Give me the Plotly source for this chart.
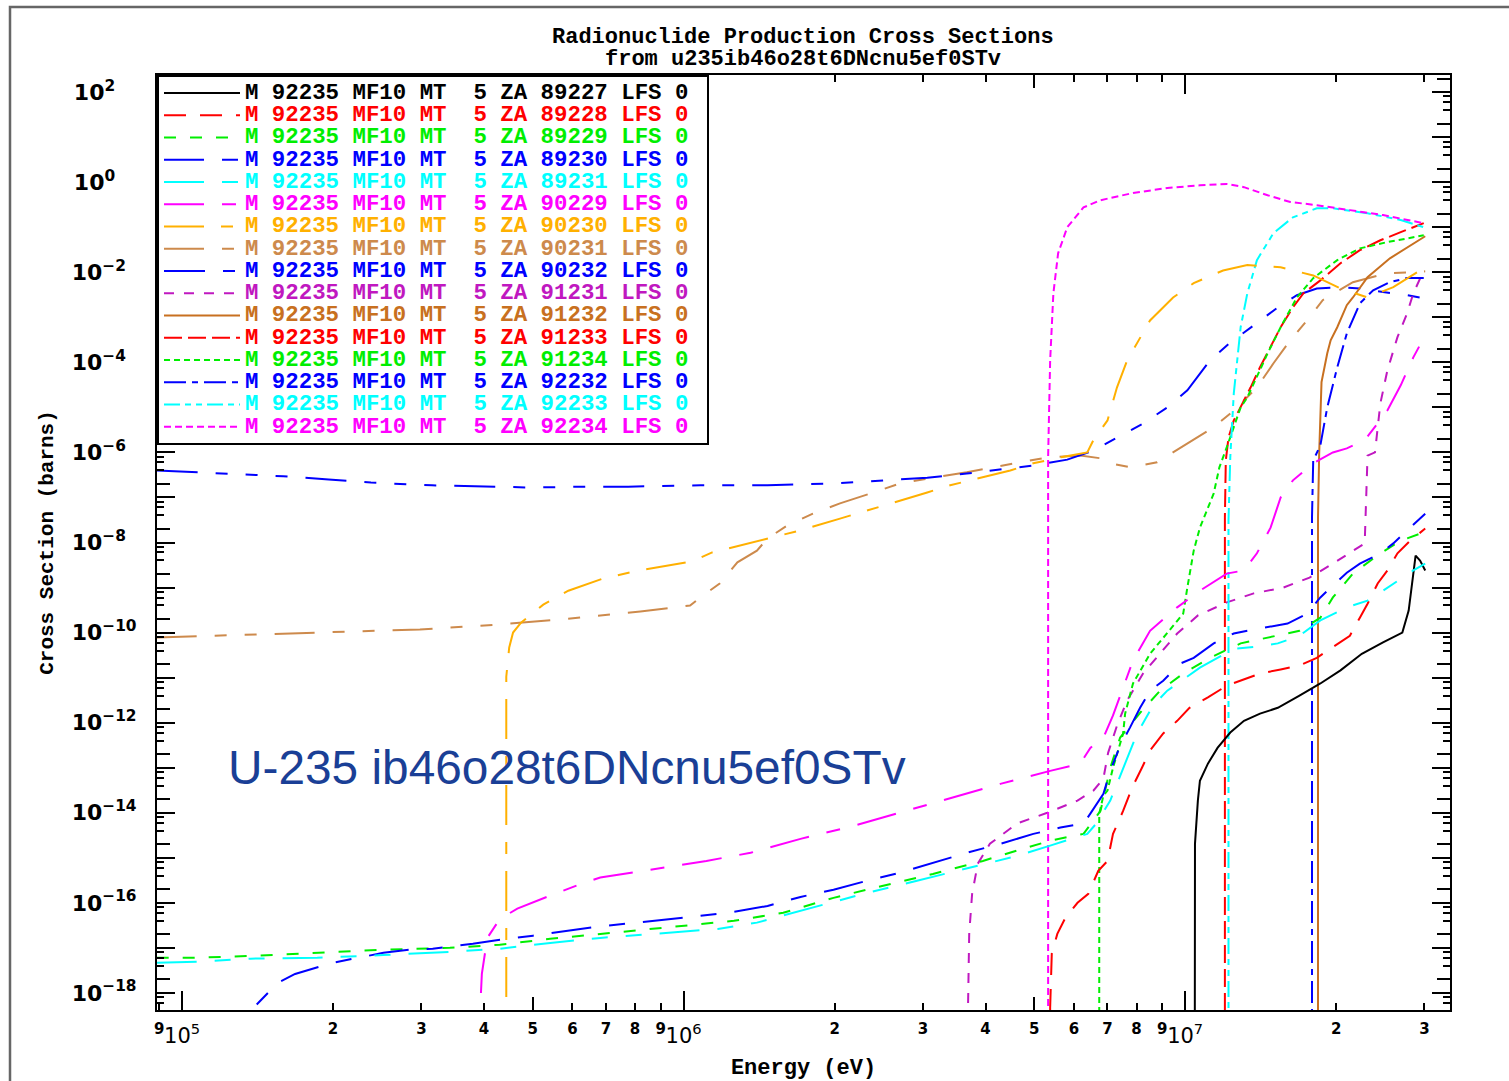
import plotly.graph_objects as go

W, H = 1509, 1081
ML, MR, MT, MB = 157, 59, 75, 71

# ---------------- data (energy in MeV, cross section as log10(barns)) ----------------
E_89227 = [10.45, 10.45, 10.46, 10.6, 10.7, 11.1, 11.6, 12.3, 13.1, 14.1, 15.3, 16.9, 18.6, 20.4, 22.5, 24.8,
           27.1, 27.9, 28.4, 28.8, 29.4, 30.1]
LG_89227 = [-20, -15.96, -14.69, -13.73, -13.29, -12.91, -12.56, -12.22, -11.96, -11.8, -11.67, -11.4, -11.13,
            -10.84, -10.47, -10.22, -10.0, -9.51, -8.84, -8.29, -8.4, -8.62]

E_89228 = [5.38, 5.38, 5.42, 5.56, 5.77, 6.10, 6.41, 6.71, 7.0, 7.18, 7.52, 7.84, 8.20, 8.51, 9.04, 9.64, 10.2,
           11.1, 12.1, 14.1, 15.5, 16.9, 18.3, 19.7, 21.3, 22.3, 23.1, 24.2, 25.3, 26.5, 28.1, 30.1]
LG_89228 = [-20, -18.33, -17.13, -16.69, -16.33, -16.0, -15.8, -15.29, -15.07, -14.47, -13.96, -13.44, -13.0,
            -12.62, -12.24, -11.96, -11.67, -11.44, -11.18, -10.91, -10.82, -10.73, -10.56, -10.33, -10.07, -9.67,
            -9.36, -8.91, -8.62, -8.24, -7.96, -7.69]

E_89229 = [0.089, 0.105, 0.137, 0.186, 0.252, 0.342, 0.430, 0.542, 0.682, 1.08, 1.26, 1.58, 1.99, 2.50, 3.14,
           3.95, 4.62, 5.38, 6.27, 6.78, 7.09, 7.42, 8.13, 8.91, 9.91, 11.2, 12.9, 14.6, 16.9, 18.6, 19.7, 21.6,
           24.5, 26.9, 29.8]
LG_89229 = [-17.22, -17.22, -17.18, -17.11, -17.04, -17.0, -16.93, -16.8, -16.69, -16.47, -16.4, -16.22, -15.89,
            -15.62, -15.36, -15.07, -14.84, -14.62, -14.47, -13.96, -13.0, -12.33, -11.78, -11.29, -10.91, -10.56,
            -10.24, -10.11, -9.96, -9.67, -9.22, -8.69, -8.24, -7.96, -7.78]

E_89230 = [0.135, 0.138, 0.155, 0.168, 0.200, 0.252, 0.285, 0.316, 0.380, 0.417, 0.501, 0.594, 0.673, 1.08, 1.26,
           1.47, 1.71, 1.99, 2.32, 2.70, 3.14, 3.67, 4.28, 4.98, 5.64, 6.27, 6.47, 6.87, 7.09, 7.42, 7.76, 8.13,
           8.51, 9.04, 9.77, 10.4, 11.4, 12.5, 13.3, 14.8, 16.0, 17.5, 18.6, 19.5, 21.0, 22.3, 24.5, 26.0, 27.7, 30.1]
LG_89230 = [-19.5, -18.36, -17.78, -17.58, -17.33, -17.11, -17.04, -17.02, -16.91, -16.84, -16.73, -16.62, -16.53,
            -16.29, -16.2, -16.07, -15.87, -15.71, -15.51, -15.33, -15.11, -14.89, -14.69, -14.47, -14.33, -14.24,
            -14.02, -13.58, -13.07, -12.51, -12.11, -11.67, -11.29, -11.07, -10.69, -10.56, -10.24, -10.02, -9.96,
            -9.87, -9.8, -9.58, -9.22, -9.0, -8.67, -8.47, -8.24, -8.02, -7.73, -7.36]

E_89231 = [0.089, 0.107, 0.137, 0.186, 0.252, 0.342, 0.430, 0.542, 0.682, 1.17, 1.40, 1.85, 2.32, 2.92, 3.67,
           4.62, 5.38, 6.38, 6.65, 7.09, 7.42, 8.02, 8.63, 9.21, 10.7, 11.6, 12.5, 13.9, 15.3, 16.9, 18.6, 21.0,
           23.1, 24.5, 26.0, 28.5, 30.1]
LG_89231 = [-17.33, -17.31, -17.24, -17.22, -17.16, -17.09, -17.02, -16.89, -16.78, -16.58, -16.44, -16.07, -15.78,
            -15.51, -15.24, -14.96, -14.73, -14.47, -14.24, -13.73, -13.18, -12.24, -11.62, -11.29, -10.78, -10.56,
            -10.36, -10.31, -10.24, -10.07, -9.73, -9.44, -9.29, -9.11, -8.91, -8.62, -8.47]

E_90229 = [0.392, 0.393, 0.396, 0.406, 0.430, 0.466, 0.542, 0.631, 0.682, 1.11, 1.36, 1.71, 2.15, 2.70, 3.40,
           4.28, 5.38, 6.18, 6.47, 6.87, 7.18, 7.87, 8.51, 9.64, 10.7, 12.1, 13.1, 13.9, 14.8, 15.5, 16.4, 18.0,
           19.7, 21.0, 22.8, 25.3, 26.9, 28.5, 30.1]
LG_90229 = [-20, -18.36, -17.58, -16.78, -16.36, -16.13, -15.84, -15.56, -15.44, -15.07, -14.89, -14.58, -14.31,
            -14.0, -13.67, -13.36, -13.07, -12.91, -12.56, -12.33, -11.84, -10.62, -9.96, -9.44, -9.07, -8.69,
            -8.62, -8.24, -7.67, -7.0, -6.62, -6.24, -6.0, -5.91, -5.73, -5.07, -4.51, -3.89, -3.4]

E_90230 = [0.443, 0.443, 0.449, 0.457, 0.474, 0.525, 0.589, 0.691, 0.815, 0.914, 1.04, 1.14, 1.37, 1.71, 2.05,
           2.32, 2.62, 3.06, 3.40, 3.85, 4.48, 4.98, 5.64, 6.38, 6.56, 7.0, 7.31, 7.66, 8.13, 8.51, 9.46, 10.4,
           11.9, 13.3, 15.5, 18.0, 20.4, 23.1, 26.0, 29.4]
LG_90230 = [-20, -10.98, -10.33, -10.0, -9.78, -9.38, -9.07, -8.8, -8.62, -8.53, -8.42, -8.22, -8.0, -7.73, -7.47,
            -7.29, -7.13, -6.89, -6.73, -6.58, -6.4, -6.24, -6.11, -6.0, -5.73, -5.29, -4.56, -3.96, -3.44, -3.07,
            -2.56, -2.24, -1.96, -1.84, -1.89, -2.07, -2.36, -2.56, -2.33, -1.96]

E_90231 = [0.089, 0.172, 0.298, 0.430, 0.566, 0.820, 1.03, 1.08, 1.18, 1.28, 1.40, 1.47, 1.61, 1.81, 2.05, 2.39,
           2.70, 3.14, 3.67, 4.14, 4.62, 5.31, 6.18, 6.78, 7.09, 7.76, 8.79, 10.1, 11.4, 12.5, 13.9, 15.0, 16.2,
           17.5, 18.8, 21.6, 25.3, 28.5, 30.1]
LG_90231 = [-10.11, -10.02, -9.93, -9.82, -9.71, -9.53, -9.4, -9.22, -8.91, -8.44, -8.18, -7.91, -7.62, -7.36,
            -7.13, -6.89, -6.69, -6.56, -6.44, -6.33, -6.24, -6.11, -6.07, -6.13, -6.24, -6.33, -6.22, -5.8, -5.44,
            -5.07, -4.56, -4.02, -3.51, -3.07, -2.62, -2.22, -2.02, -2.0, -1.98]

E_90232 = [0.089, 0.120, 0.159, 0.196, 0.238, 0.315, 0.390, 0.499, 0.641, 0.775, 1.08, 1.47, 1.99, 2.50, 3.06,
           3.67, 4.28, 4.98, 5.82, 6.56, 7.31, 8.24, 9.21, 10.1, 11.2, 12.3, 13.7, 15.3, 16.7, 18.3, 20.4, 22.3,
           24.8, 27.7, 30.1]
LG_90232 = [-6.4, -6.47, -6.53, -6.6, -6.67, -6.73, -6.76, -6.78, -6.76, -6.76, -6.73, -6.73, -6.69, -6.62, -6.56,
            -6.47, -6.38, -6.29, -6.16, -5.96, -5.67, -5.36, -5.0, -4.62, -3.96, -3.56, -3.18, -2.78, -2.51, -2.36,
            -2.33, -2.36, -2.44, -2.51, -2.58]

E_91231 = [3.69, 3.69, 3.71, 3.76, 3.86, 4.08, 4.62, 5.31, 6.10, 6.56, 6.87, 7.02, 7.31, 7.66, 8.24, 8.91, 9.64,
           10.6, 12.1, 13.7, 15.7, 17.7, 19.7, 22.8, 23.1, 23.9, 24.5, 25.3, 26.5, 27.7, 28.5, 29.9]
LG_91231 = [-20, -18.33, -16.69, -15.8, -15.13, -14.69, -14.24, -14.0, -13.73, -13.51, -13.24, -12.67, -12.07,
            -11.51, -10.91, -10.47, -10.02, -9.62, -9.33, -9.13, -9.0, -8.78, -8.47, -8.02, -6.07, -6.0, -4.91,
            -4.18, -3.44, -2.91, -2.47, -1.96]

E_91232 = [18.4, 18.4, 18.5, 18.7, 19.2, 19.5, 20.1, 21.0, 21.6, 23.1, 25.6, 28.5, 30.1]
LG_91232 = [-20, -7.44, -6.02, -4.44, -3.8, -3.51, -3.22, -2.73, -2.56, -2.11, -1.69, -1.36, -1.2]

E_91233 = [12.0, 12.0, 12.05, 12.2, 12.5, 12.9, 13.5, 14.1, 14.8, 15.5, 16.4, 17.2, 18.6, 20.4, 22.3, 24.5, 26.9,
           29.9]
LG_91233 = [-20, -7.44, -6.18, -5.67, -5.29, -5.0, -4.56, -4.11, -3.67, -3.22, -2.78, -2.47, -2.18, -1.8, -1.51,
            -1.29, -1.11, -0.91]

E_91234 = [6.74, 6.74, 6.87, 7.0, 7.18, 7.52, 7.59, 7.87, 8.51, 9.21, 9.91, 10.1, 10.4, 10.7, 11.4, 11.7, 12.1,
           12.9, 13.3, 14.6, 15.5, 16.7, 18.0, 20.1, 22.3, 25.3, 28.5, 29.9]
LG_91234 = [-20, -14.02, -13.62, -13.51, -13.0, -12.24, -11.8, -11.13, -10.47, -10.02, -9.58, -9.0, -8.18, -7.67,
            -6.91, -6.33, -5.89, -5.0, -4.78, -3.8, -3.22, -2.56, -2.13, -1.73, -1.47, -1.33, -1.22, -1.18]

E_92232 = [17.9, 17.9, 18.0, 18.6, 19.2, 20.1, 21.0, 22.3, 23.7, 25.6, 27.7, 29.9]
LG_92232 = [-20, -7.44, -6.18, -5.84, -5.0, -4.11, -3.36, -2.69, -2.4, -2.22, -2.13, -2.13]

E_92233 = [12.2, 12.2, 12.3, 12.5, 12.9, 13.3, 13.9, 15.0, 16.4, 18.3, 19.7, 23.1, 26.9, 29.9]
LG_92233 = [-20, -7.51, -6.11, -4.69, -3.22, -2.47, -1.73, -1.13, -0.78, -0.58, -0.58, -0.69, -0.84, -1.0]

E_92234 = [5.33, 5.33, 5.38, 5.46, 5.58, 5.82, 6.27, 6.78, 7.87, 9.21, 10.7, 12.1, 13.1, 14.6, 16.2, 18.3, 21.3,
           24.8, 29.9]
LG_92234 = [-20, -6.11, -3.96, -2.47, -1.58, -1.0, -0.56, -0.4, -0.24, -0.13, -0.07, -0.04, -0.11, -0.29, -0.44,
            -0.51, -0.62, -0.73, -0.91]

ZA_LIST = ["89227", "89228", "89229", "89230", "89231", "90229", "90230", "90231", "90232",
           "91231", "91232", "91233", "91234", "92232", "92233", "92234"]
COLORS = ["#000000", "#ff0000", "#00ee00", "#0000ff", "#00ffff", "#ff00ff", "#ffb000", "#cd8a4c", "#0000ff",
          "#c018c0", "#c87020", "#ff0000", "#00ee00", "#0000ff", "#00ffff", "#ff00ff"]
DASHES = ["solid", "22px,14px", "12px,14px", "40px,18px,16px,18px", "40px,18px,16px,18px,16px,18px",
          "40px,18px,14px,18px", "40px,17px,12px,17px", "40px,18px,12px,18px,12px,18px",
          "41px,18px,12px,18px,12px,18px,12px,18px", "10px,10px", "solid", "18px,6px", "6px,4px",
          "22px,6px,6px,6px", "16px,5px,6px,5px,6px,5px", "7px,4px"]
ENERGIES = [E_89227, E_89228, E_89229, E_89230, E_89231, E_90229, E_90230, E_90231, E_90232,
            E_91231, E_91232, E_91233, E_91234, E_92232, E_92233, E_92234]
LOG_XS = [LG_89227, LG_89228, LG_89229, LG_89230, LG_89231, LG_90229, LG_90230, LG_90231, LG_90232,
          LG_91231, LG_91232, LG_91233, LG_91234, LG_92232, LG_92233, LG_92234]

TITLE_1 = "Radionuclide Production Cross Sections"
TITLE_2 = "from u235ib46o28t6DNcnu5ef0STv"
NOTE = "U-235 ib46o28t6DNcnu5ef0STv"
X_TITLE = "Energy (eV)"
Y_TITLE = "Cross Section (barns)"

X_RANGE_LOG = [4.950, 7.528]
Y_RANGE_LOG = [-18.38, 2.38]

# ---------------- figure ----------------
MONO = "Liberation Mono"
SANS = "DejaVu Sans"
# the overlay tick axes each carry one (identically scaled) trace so that plotly draws them
AXES_FOR = {0: ("x2", "y"), 1: ("x3", "y"), 2: ("x", "y2"),
            3: ("x4", "y"), 4: ("x5", "y"), 5: ("x6", "y"), 6: ("x", "y3")}

fig = go.Figure()
for i, (za, color, dash, E, LG) in enumerate(zip(ZA_LIST, COLORS, DASHES, ENERGIES, LOG_XS)):
    label = ('<span style="color:%s;font-size:22.4px">M 92235 MF10 MT\u00a0\u00a05 ZA %s LFS 0\u00a0</span>'
             % (color, za))
    xa, ya = AXES_FOR.get(i, ("x", "y"))
    fig.add_trace(go.Scatter(x=[e * 1e6 for e in E], y=[10.0 ** v for v in LG], mode="lines",
                             line=dict(color=color, width=2, dash=dash), name=label,
                             xaxis=xa, yaxis=ya, hoverinfo="skip"))

# tick definitions
x_decades = [1e5, 1e6, 1e7]
x_decade_text = ["10<sup>5</sup>", "10<sup>6</sup>", "10<sup>7</sup>"]
x_digits, x_digit_text, x_fives = [], [], []
for dec in [1e4, 1e5, 1e6, 1e7]:
    for d in range(2, 10):
        v = d * dec
        if 10 ** X_RANGE_LOG[0] <= v <= 10 ** X_RANGE_LOG[1]:
            if d == 5:
                x_fives.append(v)
            else:
                x_digits.append(v)
                x_digit_text.append(str(d))

MINUS = "\u2212"
FIG = "\u2007"
y_decades = [10.0 ** k for k in range(-18, 3)]
y_text = []
for k in range(-18, 3):
    if k % 2:
        y_text.append("")
    else:
        exp = (MINUS + str(-k)) if k < 0 else str(k)
        pad = FIG * max(0, 3 - len(exp))
        y_text.append("10<sup>%s%s</sup>" % (exp, pad))
y_minor = [d * 10.0 ** k for k in range(-19, 3) for d in (4, 6, 8)]
y_twos = [2 * 10.0 ** k for k in range(-19, 3)]

tick_common = dict(showgrid=False, zeroline=False, ticks="inside", tickcolor="black", tickwidth=2)
xr = dict(type="log", range=X_RANGE_LOG, overlaying="x", anchor="y", showline=False, tickmode="array")
yr = dict(type="log", range=Y_RANGE_LOG, overlaying="y", anchor="x", showline=False, tickmode="array",
          showticklabels=False)
digit_font = dict(family=SANS, size=15, color="black", weight="bold")

fig.update_layout(
    width=W, height=H,
    margin=dict(l=ML, r=MR, t=MT, b=MB, autoexpand=False),
    paper_bgcolor="white", plot_bgcolor="white",
    showlegend=True,
    legend=dict(x=0, y=1, xanchor="left", yanchor="top", bgcolor="white", bordercolor="black", borderwidth=2,
                font=dict(family=MONO, size=14.8, color="black", weight="bold"),
                itemwidth=76, tracegroupgap=0, itemclick=False, itemdoubleclick=False),
    xaxis=dict(type="log", range=X_RANGE_LOG, showline=True, linecolor="black", linewidth=2, mirror=True,
               ticklen=19, tickmode="array", tickvals=x_decades, ticktext=x_decade_text,
               tickfont=dict(family=SANS, size=21, color="black"), ticklabelstandoff=6,
               title=dict(text=X_TITLE, font=dict(family=MONO, size=22, color="black", weight="bold"),
                          standoff=12),
               **tick_common),
    # bottom: digit labels and ticks, medium ticks at 5
    xaxis2=dict(side="bottom", ticklen=7, tickvals=x_digits, ticktext=x_digit_text, tickfont=digit_font,
                ticklabelstandoff=8, **xr, **tick_common),
    xaxis3=dict(side="bottom", ticklen=13, tickvals=x_fives, ticktext=["5"] * len(x_fives), tickfont=digit_font,
                ticklabelstandoff=8, **xr, **tick_common),
    # top: the same ticks, without labels
    xaxis4=dict(side="top", ticklen=19, tickvals=x_decades, showticklabels=False, **xr, **tick_common),
    xaxis5=dict(side="top", ticklen=7, tickvals=x_digits, showticklabels=False, **xr, **tick_common),
    xaxis6=dict(side="top", ticklen=13, tickvals=x_fives, showticklabels=False, **xr, **tick_common),
    yaxis=dict(type="log", range=Y_RANGE_LOG, showline=True, linecolor="black", linewidth=2, mirror="ticks",
               ticklen=18, tickmode="array", tickvals=y_decades, ticktext=y_text,
               tickfont=dict(family=SANS, size=22, color="black", weight="bold"), ticklabelstandoff=14,
               minor=dict(tickmode="array", tickvals=y_minor, ticklen=7, ticks="inside", tickcolor="black",
                          tickwidth=2, showgrid=False),
               title=dict(text=Y_TITLE, font=dict(family=MONO, size=21, color="black", weight="bold"),
                          standoff=12),
               **tick_common),
    yaxis2=dict(side="left", ticklen=13, tickvals=y_twos, **yr, **tick_common),
    yaxis3=dict(side="right", ticklen=13, tickvals=y_twos, **yr, **tick_common),
)

PW = W - ML - MR
PH = H - MT - MB


def paper_x(px):
    return (px - ML) / PW


def paper_y(py):
    return (H - MB - py) / PH


fig.add_annotation(text=TITLE_1, xref="paper", yref="paper", x=paper_x(803), y=paper_y(37), showarrow=False,
                   xanchor="center", yanchor="middle",
                   font=dict(family=MONO, size=22, color="black", weight="bold"))
fig.add_annotation(text=TITLE_2, xref="paper", yref="paper", x=paper_x(803), y=paper_y(59), showarrow=False,
                   xanchor="center", yanchor="middle",
                   font=dict(family=MONO, size=22, color="black", weight="bold"))
fig.add_annotation(text=NOTE, xref="paper", yref="paper", x=paper_x(226), y=paper_y(767), showarrow=False,
                   xanchor="left", yanchor="middle",
                   font=dict(family="Liberation Sans", size=47.8, color="#1a3f96"))

# outer frame of the page
fig.add_shape(type="rect", xref="paper", yref="paper", x0=paper_x(10), x1=paper_x(1530), y0=paper_y(1100),
              y1=paper_y(7), line=dict(color="#666666", width=2.5), fillcolor="rgba(0,0,0,0)", layer="below")

fig.write_html("out.html", config={"displayModeBar": False},
               post_script="document.body.style.margin='0';document.body.style.overflow='hidden';")
